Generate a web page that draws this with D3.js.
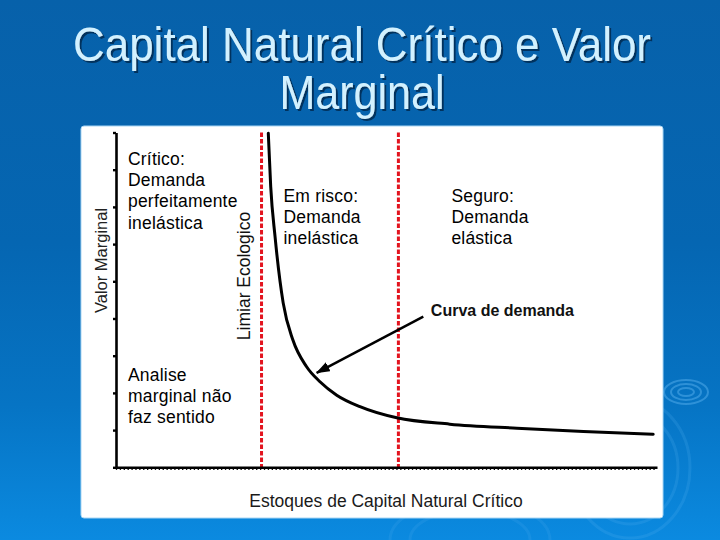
<!DOCTYPE html>
<html><head><meta charset="utf-8">
<script src="https://cdn.jsdelivr.net/npm/d3@7"></script>
<style>html,body{margin:0;padding:0;overflow:hidden;background:#0664ae}</style>
</head><body><svg id="c" width="720" height="540"></svg>
<script>
// ---- data ----
const titleLines = ["Capital Natural Crítico e Valor", "Marginal"];
const xLabel = "Estoques de Capital Natural Crítico";
const yLabel = "Valor Marginal";
const thresholdLabel = "Limiar Ecologico";
const curveLabel = "Curva de demanda";
const stockValues    = [28.15, 28.6, 29.4, 30.9, 32.7, 35.2, 37.7, 40.8, 45.1, 51.9, 61.7, 74.1, 86.4, 99.3];
const marginalValues = [8.98, 7.54, 6.2, 4.42, 3.42, 2.71, 2.30, 1.94, 1.63, 1.33, 1.16, 1.05, 0.96, 0.89];
const thresholds = [26.9, 52.2];
const yTicks = [0, 1, 2, 3, 4, 5, 6, 7, 8, 9];
const zoneCritico = ["Crítico:", "Demanda", "perfeitamente", "inelástica"];
const zoneRisco = ["Em risco:", "Demanda", "inelástica"];
const zoneSeguro = ["Seguro:", "Demanda", "elástica"];
const zoneNote = ["Analise", "marginal não", "faz sentido"];

// ---- drawing ----
const svg = d3.select("#c");
const defs = svg.append("defs");
const g = defs.append("linearGradient").attr("id", "bg").attr("x1", 0).attr("y1", 0).attr("x2", 0).attr("y2", 1);
[[0, "#0761aa"], [0.45, "#0566b2"], [0.75, "#0674c4"], [1, "#0b8ae0"]].forEach(([o, c]) =>
  g.append("stop").attr("offset", o).attr("stop-color", c));
const mk = defs.append("marker").attr("id", "arrow").attr("markerUnits", "userSpaceOnUse")
  .attr("markerWidth", 14).attr("markerHeight", 12).attr("refX", 13).attr("refY", 5)
  .attr("orient", "auto");
mk.append("path").attr("d", "M0,0 L14,5 L0,10 Z").attr("fill", "#000");
const sh = defs.append("filter").attr("id", "shadow").attr("x", "-5%").attr("y", "-20%").attr("width", "110%").attr("height", "140%");
sh.append("feDropShadow").attr("dx", 2).attr("dy", 2).attr("stdDeviation", 0.6)
  .attr("flood-color", "#03284a").attr("flood-opacity", 0.8);

svg.append("rect").attr("width", 720).attr("height", 540).attr("fill", "url(#bg)");

// ripple decorations
const rip = svg.append("g").attr("fill", "none").attr("stroke", "#5fb6f2").attr("stroke-opacity", 0.45);
[[22, 12], [15, 8], [8, 4]].forEach(([rx, ry]) =>
  rip.append("ellipse").attr("cx", 686).attr("cy", 392).attr("rx", rx).attr("ry", ry).attr("stroke-width", 2));
[[60, 70], [48, 56]].forEach(([rx, ry]) =>
  rip.append("ellipse").attr("cx", 630).attr("cy", 468).attr("rx", rx).attr("ry", ry).attr("stroke-width", 3).attr("stroke-opacity", 0.18));
[[80, 40], [60, 30]].forEach(([rx, ry]) =>
  rip.append("ellipse").attr("cx", 470).attr("cy", 540).attr("rx", rx).attr("ry", ry).attr("stroke-width", 3).attr("stroke-opacity", 0.15));

// title
const title = svg.append("g").attr("font-family", "'Liberation Sans Narrow','Arial Narrow','Liberation Sans',Arial,sans-serif")
  .attr("font-size", 48).attr("text-anchor", "middle").attr("filter", "url(#shadow)");
const tBase = [61, 109], tLen = [578, 165];
titleLines.forEach((t, i) => {
  title.append("text").attr("x", 362).attr("y", tBase[i]).attr("fill", "#d2f1ff")
    .attr("textLength", tLen[i]).attr("lengthAdjust", "spacingAndGlyphs").text(t);
});

// panel
svg.append("rect").attr("x", 81).attr("y", 126).attr("width", 582).attr("height", 392).attr("rx", 3)
  .attr("fill", "#fff").attr("stroke", "#a9d6f4").attr("stroke-width", 1);

const x = d3.scaleLinear().domain([0, 100]).range([116, 657]);
const y = d3.scaleLinear().domain([0, 9]).range([467.3, 132.5]);

const font = "'Liberation Sans',Arial,Helvetica,sans-serif";

// threshold dashed lines
svg.append("g").selectAll("line").data(thresholds).join("line")
  .attr("x1", d => x(d)).attr("x2", d => x(d)).attr("y1", y(9)).attr("y2", y(0))
  .attr("stroke", "#e3141f").attr("stroke-width", 3).attr("stroke-dasharray", "4.5,2");

// axes
const yAxis = svg.append("g").attr("transform", `translate(${x(0)},0)`)
  .call(d3.axisLeft(y).tickValues(yTicks).tickSize(3).tickSizeOuter(0).tickFormat(""));
yAxis.select(".domain").attr("stroke", "#000").attr("stroke-width", 2.6);
yAxis.selectAll(".tick line").attr("stroke", "#000").attr("stroke-width", 2.4);

const xAxis = svg.append("g").attr("transform", `translate(0,${y(0)})`)
  .call(d3.axisBottom(x).tickValues(d3.range(0, 100.01, 0.72)).tickSize(2.6).tickSizeOuter(0).tickFormat(""));
xAxis.select(".domain").attr("stroke", "#000").attr("stroke-width", 2.6);
xAxis.selectAll(".tick line").attr("stroke", "#000").attr("stroke-width", 1.3);

// demand curve
const pts = stockValues.map((s, i) => [s, marginalValues[i]]);
svg.append("path").datum(pts)
  .attr("d", d3.line().x(d => x(d[0])).y(d => y(d[1])).curve(d3.curveMonotoneX))
  .attr("fill", "none").attr("stroke", "#000").attr("stroke-width", 3).attr("stroke-linecap", "round");

// arrow
svg.append("line").attr("x1", x(56.8)).attr("y1", y(4.05)).attr("x2", x(37.1)).attr("y2", y(2.54))
  .attr("stroke", "#000").attr("stroke-width", 2.5).attr("marker-end", "url(#arrow)");

// labels
svg.append("text").attr("x", x(58.2)).attr("y", y(4.08)).attr("font-family", font).attr("font-weight", "bold")
  .attr("font-size", 16).attr("fill", "#111").text(curveLabel);

svg.append("text").attr("x", 386).attr("y", 506.5).attr("text-anchor", "middle").attr("font-family", font)
  .attr("font-size", 17.5).attr("fill", "#1a1a1a").text(xLabel);

svg.append("text").attr("transform", `translate(106.5,260.5) rotate(-90)`).attr("text-anchor", "middle")
  .attr("font-family", font).attr("font-size", 16.5).attr("fill", "#222").text(yLabel);

svg.append("text").attr("transform", `translate(249.5,276) rotate(-90)`).attr("text-anchor", "middle")
  .attr("font-family", font).attr("font-size", 17.5).attr("fill", "#111").text(thresholdLabel);

function block(lines, px, py) {
  const t = svg.append("text").attr("font-family", font).attr("font-size", 17.5)
    .attr("letter-spacing", 0.2).attr("fill", "#000");
  lines.forEach((l, i) => t.append("tspan").attr("x", px).attr("y", py + i * 21.2).text(l));
}
block(zoneCritico, x(2.22), 165);
block(zoneNote, x(2.22), 380.7);
block(zoneRisco, x(30.96), 201.5);
block(zoneSeguro, x(62.0), 202);
</script></body></html>
